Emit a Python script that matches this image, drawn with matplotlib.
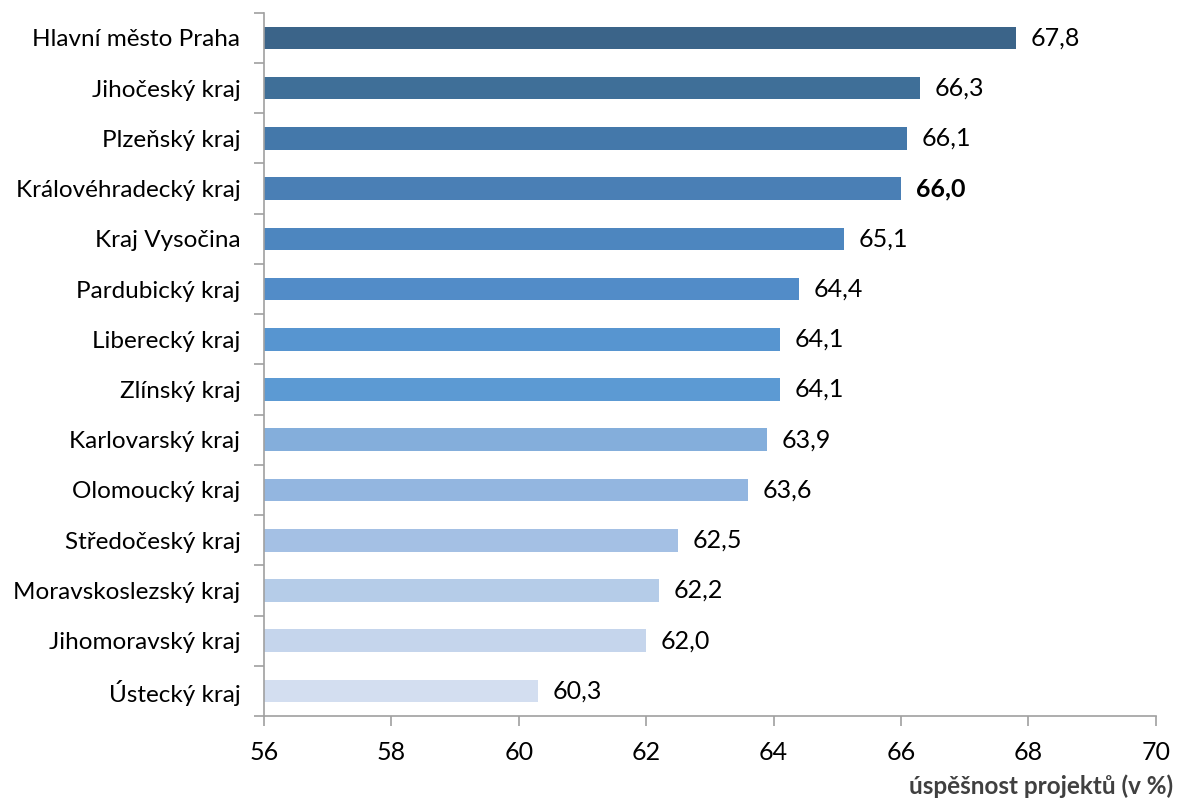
import matplotlib
matplotlib.use("Agg")
import matplotlib.pyplot as plt

regions = [
    "Hlavní město Praha",
    "Jihočeský kraj",
    "Plzeňský kraj",
    "Královéhradecký kraj",
    "Kraj Vysočina",
    "Pardubický kraj",
    "Liberecký kraj",
    "Zlínský kraj",
    "Karlovarský kraj",
    "Olomoucký kraj",
    "Středočeský kraj",
    "Moravskoslezský kraj",
    "Jihomoravský kraj",
    "Ústecký kraj",
]
values = [67.8, 66.3, 66.1, 66.0, 65.1, 64.4, 64.1, 64.1, 63.9, 63.6, 62.5, 62.2, 62.0, 60.3]
bar_colors = [
    "#3B6489", "#3F6F98", "#4478AA", "#4A7FB5", "#4D86BF", "#528CC8", "#5795D0",
    "#5C9AD3", "#84AEDB", "#93B6E0", "#A4C0E4", "#B5CCE8", "#C5D5EC", "#D3DEF0",
]
highlight = "Královéhradecký kraj"
x_ticks = [56, 58, 60, 62, 64, 66, 68, 70]

plt.rcParams["font.family"] = ["Lato", "DejaVu Sans"]
axis_grey = "#A0A0A0"

fig = plt.figure(figsize=(11.77, 8.0), dpi=100)
ax = fig.add_axes([0.2243, 0.105, 0.982 - 0.2243, 0.984 - 0.105])

pos = list(range(len(regions)))[::-1]
ax.barh(pos, [v - 56 for v in values], left=56, height=0.45, color=bar_colors)

for y, v, name in zip(pos, values, regions):
    ax.text(v + 0.23, y, f"{v:.1f}".replace(".", ","), va="center", ha="left",
            fontsize=18, fontweight="bold" if name == highlight else "normal")

ax.set_xlim(56, 70)
ax.set_ylim(-0.5, len(regions) - 0.5)
ax.set_xticks(x_ticks)
ax.set_xticklabels([str(t) for t in x_ticks], fontsize=18)
ax.set_yticks(pos)
ax.set_yticklabels(regions, fontsize=17.5)
ax.set_yticks([i - 0.5 for i in range(len(regions) + 1)], minor=True)
ax.tick_params(axis="y", which="major", length=0, pad=17)
ax.tick_params(axis="y", which="minor", length=7, color=axis_grey, width=1.2)
ax.tick_params(axis="x", which="major", length=7, color=axis_grey, width=1.2, pad=11)

for side in ["top", "right"]:
    ax.spines[side].set_visible(False)
for side in ["left", "bottom"]:
    ax.spines[side].set_color(axis_grey)
    ax.spines[side].set_linewidth(1.2)

fig.text(0.9965, 0.003, "úspěšnost projektů (v %)", ha="right", va="bottom",
         fontsize=17.5, fontweight="bold", color="#404040")

fig.savefig("out.png", dpi=100)
